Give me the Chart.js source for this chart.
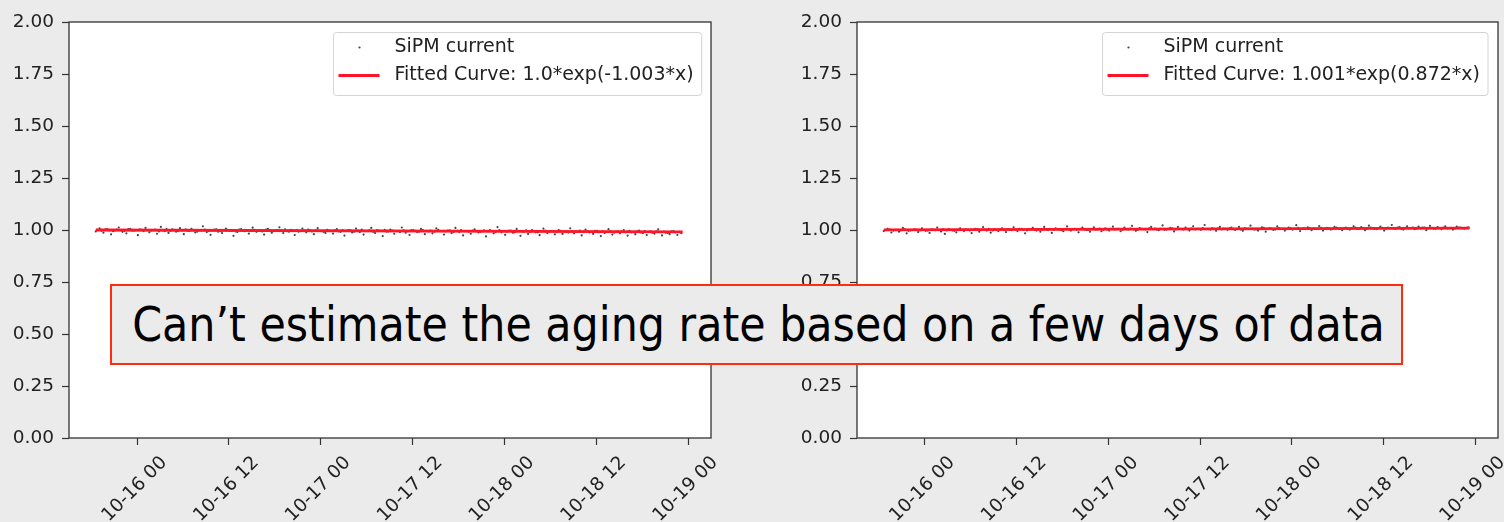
<!DOCTYPE html>
<html><head><meta charset="utf-8">
<script src="https://cdn.jsdelivr.net/npm/chart.js@4.4.0/dist/chart.umd.min.js"></script>
<style>
html,body{margin:0;padding:0;background:#ebebeb;width:1504px;height:522px;overflow:hidden;}
.panel{position:absolute;top:0;width:752px;height:522px;}
#note{position:absolute;left:110px;top:284px;width:1293px;height:81px;box-sizing:border-box;border:2.5px solid #ff2d0d;background:#ebebeb;display:flex;align-items:center;justify-content:center;font-family:"DejaVu Sans Condensed","DejaVu Sans",sans-serif;font-stretch:condensed;font-size:47.6px;color:#000;z-index:5;white-space:nowrap;padding-left:4px;}
</style></head><body>
<div class="panel" style="left:0"><canvas id="c1" width="752" height="522"></canvas></div>
<div class="panel" style="left:752px"><canvas id="c2" width="752" height="522"></canvas></div>
<div id="note">Can’t estimate the aging rate based on a few days of data</div>
<script>
// sample times, hours relative to 10-16 00:00 (two interleaved read-outs)
const hours = [
-5.4,-4.9,-4.4,-3.9,-3.4,-2.9,-2.4,-1.9,-1.4,-0.9,
-0.4,0.1,0.6,1.1,1.6,2.1,2.6,3.1,3.6,4.1,
4.6,5.1,5.6,6.1,6.6,7.1,7.6,8.1,8.6,9.1,
9.6,10.1,10.6,11.1,11.6,12.1,12.6,13.1,13.6,14.1,
14.6,15.1,15.6,16.1,16.6,17.1,17.6,18.1,18.6,19.1,
19.6,20.1,20.6,21.1,21.6,22.1,22.6,23.1,23.6,24.1,
24.6,25.1,25.6,26.1,26.6,27.1,27.6,28.1,28.6,29.1,
29.6,30.1,30.6,31.1,31.6,32.1,32.6,33.1,33.6,34.1,
34.6,35.1,35.6,36.1,36.6,37.1,37.6,38.1,38.6,39.1,
39.6,40.1,40.6,41.1,41.6,42.1,42.6,43.1,43.6,44.1,
44.6,45.1,45.6,46.1,46.6,47.1,47.6,48.1,48.6,49.1,
49.6,50.1,50.6,51.1,51.6,52.1,52.6,53.1,53.6,54.1,
54.6,55.1,55.6,56.1,56.6,57.1,57.6,58.1,58.6,59.1,
59.6,60.1,60.6,61.1,61.6,62.1,62.6,63.1,63.6,64.1,
64.6,65.1,65.6,66.1,66.6,67.1,67.6,68.1,68.6,69.1,
69.6,70.1,70.6,71.1];
const hoursB = [
-5.15,-4.65,-4.15,-3.65,-3.15,-2.65,-2.15,-1.65,-1.15,-0.65,
-0.15,0.35,0.85,1.35,1.85,2.35,2.85,3.35,3.85,4.35,
4.85,5.35,5.85,6.35,6.85,7.35,7.85,8.35,8.85,9.35,
9.85,10.35,10.85,11.35,11.85,12.35,12.85,13.35,13.85,14.35,
14.85,15.35,15.85,16.35,16.85,17.35,17.85,18.35,18.85,19.35,
19.85,20.35,20.85,21.35,21.85,22.35,22.85,23.35,23.85,24.35,
24.85,25.35,25.85,26.35,26.85,27.35,27.85,28.35,28.85,29.35,
29.85,30.35,30.85,31.35,31.85,32.35,32.85,33.35,33.85,34.35,
34.85,35.35,35.85,36.35,36.85,37.35,37.85,38.35,38.85,39.35,
39.85,40.35,40.85,41.35,41.85,42.35,42.85,43.35,43.85,44.35,
44.85,45.35,45.85,46.35,46.85,47.35,47.85,48.35,48.85,49.35,
49.85,50.35,50.85,51.35,51.85,52.35,52.85,53.35,53.85,54.35,
54.85,55.35,55.85,56.35,56.85,57.35,57.85,58.35,58.85,59.35,
59.85,60.35,60.85,61.35,61.85,62.35,62.85,63.35,63.85,64.35,
64.85,65.35,65.85,66.35,66.85,67.35,67.85,68.35,68.85,69.35,
69.85,70.35,70.85];

const currentLeft = [
0.993,1.008,0.987,1.004,0.979,0.998,1.012,0.991,0.984,1.006,0.997,0.975,1.001,1.010,0.989,0.999,0.982,1.015,0.994,0.986,1.003,0.992,1.009,0.980,0.996,1.005,0.988,0.999,1.018,0.990,0.977,
1.002,0.992,0.985,1.007,0.996,0.972,0.990,1.004,0.994,0.983,1.011,0.991,0.999,0.978,1.006,0.987,0.997,1.013,0.985,0.994,1.001,0.976,0.992,1.007,0.989,0.999,0.980,1.009,0.995,0.986,
0.997,0.983,1.004,0.991,0.973,0.999,0.988,1.007,0.990,0.978,0.995,1.010,0.985,0.997,0.971,0.992,1.002,0.982,0.995,1.012,0.987,0.976,0.999,0.990,1.005,0.980,0.993,0.984,1.008,0.995,
0.978,0.997,0.985,1.010,0.990,0.974,0.995,0.982,1.003,0.988,0.993,0.969,0.999,0.984,1.014,0.989,0.977,0.997,0.987,1.005,0.972,0.992,0.981,0.999,0.989,0.975,1.007,0.985,0.995,0.979,
1.000,0.981,0.993,1.008,0.984,0.992,0.974,1.002,0.988,0.981,0.996,0.971,0.986,1.004,0.978,0.992,0.984,0.999,0.973,0.989,0.980,0.997,0.985,0.976,0.993,0.982,1.003,0.974,0.987,0.980,0.995,0.976,0.985];
const currentLeftB = [
1.001,0.996,1.003,0.998,0.994,1.002,0.999,0.995,1.004,0.997,
0.999,1.003,0.995,1.000,0.997,1.002,0.993,0.999,1.004,0.996,
1.001,0.994,0.998,1.003,0.996,1.000,0.992,0.999,1.002,0.995,
0.998,1.003,0.994,0.999,1.001,0.996,0.993,1.002,0.997,0.999,
0.995,1.001,0.997,0.993,1.002,0.998,0.994,1.000,0.996,1.003,
0.992,0.998,1.000,0.995,0.997,1.002,0.993,0.999,0.996,0.991,
1.001,0.995,0.998,0.993,1.000,0.996,0.999,0.992,0.997,1.002,
0.994,0.998,0.991,0.999,0.996,1.001,0.993,0.997,0.995,0.990,
0.998,0.994,1.000,0.996,0.992,0.999,0.995,0.997,0.991,1.001,
0.995,0.993,0.998,0.990,0.996,0.999,0.994,0.992,0.997,0.995,
0.991,0.998,0.993,0.996,0.990,0.999,0.994,0.992,0.997,0.989,
0.995,0.993,0.998,0.991,0.996,0.989,0.994,0.997,0.992,0.995,
0.990,0.996,0.993,0.988,0.995,0.992,0.997,0.990,0.994,0.991,
0.996,0.989,0.993,0.991,0.995,0.987,0.994,0.992,0.989,0.996,
0.990,0.993,0.988,0.995,0.991,0.987,0.994,0.990,0.992,0.986,
0.993,0.989,0.991];

const currentRight = [
0.995,1.006,0.988,1.001,0.992,1.010,0.984,0.998,1.003,0.990,1.008,0.996,0.986,1.001,1.012,0.993,0.981,1.004,0.998,0.989,1.008,0.995,1.001,0.985,1.006,0.992,1.014,0.997,0.987,1.003,0.995,
1.008,0.990,1.000,1.013,0.995,1.005,0.984,1.003,1.010,0.997,0.992,1.015,1.000,0.986,1.008,1.002,0.994,1.017,0.997,1.005,0.989,1.011,1.000,0.992,1.013,1.002,0.994,1.008,0.997,1.016,
1.005,0.994,1.012,1.002,1.020,0.996,1.009,1.004,0.990,1.015,1.007,0.999,1.022,1.002,1.010,0.993,1.015,1.004,1.012,0.997,1.018,1.006,1.001,1.024,1.004,1.009,0.996,1.015,1.007,1.001,
1.011,1.000,1.015,0.996,1.005,1.021,1.002,0.997,1.013,0.992,1.008,1.000,1.017,1.005,0.997,1.011,1.002,1.023,0.995,1.008,1.013,0.999,1.005,1.019,0.997,1.010,1.002,1.015,1.007,0.999,
1.012,1.002,1.018,1.006,1.014,0.999,1.021,1.009,1.004,1.016,0.997,1.012,1.024,1.006,1.014,1.002,1.018,1.009,1.004,1.016,1.011,0.999,1.020,1.006,1.014,1.004,1.018,1.009,1.002,1.016,1.011,1.006,1.013];
const currentRightB = [
0.999,1.002,0.997,1.001,0.998,1.003,0.996,1.000,1.002,0.998,
1.001,0.997,1.003,0.999,1.000,1.004,0.998,1.001,0.996,1.002,
1.000,1.003,0.998,1.002,1.004,0.999,1.001,1.005,0.998,1.002,
1.003,1.000,1.004,0.999,1.002,1.005,1.001,0.998,1.003,1.001,
1.004,1.000,1.002,1.006,1.001,1.003,0.999,1.005,1.002,1.004,
1.001,1.006,1.003,1.000,1.004,1.002,1.007,1.001,1.003,1.005,
1.002,1.006,1.000,1.004,1.007,1.003,1.001,1.005,1.003,1.008,
1.004,1.002,1.006,1.001,1.005,1.008,1.003,1.006,1.002,1.004,
1.007,1.003,1.005,1.009,1.004,1.002,1.006,1.008,1.003,1.005,
1.008,1.004,1.006,1.002,1.009,1.005,1.007,1.003,1.006,1.010,
1.005,1.007,1.003,1.009,1.006,1.004,1.008,1.005,1.010,1.006,
1.004,1.009,1.007,1.005,1.010,1.006,1.008,1.004,1.011,1.007,
1.009,1.005,1.008,1.011,1.006,1.009,1.007,1.012,1.005,1.008,
1.010,1.006,1.009,1.007,1.011,1.005,1.009,1.008,1.012,1.006,
1.008,1.011,1.007,1.010,1.006,1.009,1.012,1.008,1.010,1.007,
1.011,1.008,1.010];

const fitHours = [-5.4, 71.3];
const fitLeft = [1.000, 0.991];
const fitRight = [1.001, 1.009];

const tickHours = [0, 12, 24, 36, 48, 60, 72];
const tickLabels = ['10-16 00','10-16 12','10-17 00','10-17 12','10-18 00','10-18 12','10-19 00'];
const pointsName = 'SiPM current';
const fitNameLeft = 'Fitted Curve: 1.0*exp(-1.003*x)';
const fitNameRight = 'Fitted Curve: 1.001*exp(0.872*x)';

function pairs(xs, ys){ const n=Math.min(xs.length, ys.length); const out=[]; for(let i=0;i<n;i++) out.push({x:xs[i], y:ys[i]}); return out; }

const FONT = 'DejaVu Sans';
const frame = {
  id:'frame',
  beforeDraw(chart){ const a=chart.chartArea, c=chart.ctx; c.save(); c.fillStyle='#ffffff'; c.fillRect(a.left,a.top,a.right-a.left,a.bottom-a.top); c.restore(); },
  afterDraw(chart){ const a=chart.chartArea, c=chart.ctx; c.save(); c.strokeStyle='#333'; c.lineWidth=1.3; c.strokeRect(a.left,a.top,a.right-a.left,a.bottom-a.top); c.restore(); }
};
const innerLegend = {
  id:'innerLegend',
  afterDraw(chart){
    const a=chart.chartArea, c=chart.ctx;
    const ds = chart.data.datasets;
    const items = [ds[1], ds[0]];
    c.save();
    c.font = '19px "DejaVu Sans"';
    const tw = Math.max(...items.map(d=>c.measureText(d.label).width));
    const w = 5+41+15+tw+8, h = 63;
    const x = Math.round(a.right-10-w)+0.5, y = Math.round(a.top+10)+0.5;
    c.beginPath(); c.roundRect(x,y,w,h,3);
    c.fillStyle='rgba(255,255,255,0.8)'; c.fill();
    c.strokeStyle='#d4d4d4'; c.lineWidth=1; c.stroke();
    c.fillStyle = ds[1].pointBackgroundColor;
    c.beginPath(); c.arc(x+26, y+15, 1.1, 0, Math.PI*2); c.fill();
    c.strokeStyle = ds[0].borderColor; c.lineWidth = ds[0].borderWidth;
    c.beginPath(); c.moveTo(x+5, y+43); c.lineTo(x+46, y+43); c.stroke();
    c.fillStyle='#222'; c.textBaseline='middle'; c.textAlign='left';
    c.fillText(items[0].label, x+61, y+15);
    c.fillText(items[1].label, x+61, y+43);
    c.restore();
  }
};

function makeChart(id, ys, ysB, fitY, fitName, padLeft, padRight){
  return new Chart(document.getElementById(id), {
    type:'scatter',
    data:{ datasets:[
      { label:fitName, data:pairs(fitHours, fitY), showLine:true, borderColor:'#ff1428', borderWidth:2.8, pointRadius:0, order:0 },
      { label:pointsName, data:pairs(hours, ys).concat(pairs(hoursB, ysB)), showLine:false, pointRadius:1.1, pointBackgroundColor:'#444444', pointBorderWidth:0, borderWidth:0, order:1 }
    ]},
    options:{
      responsive:false, animation:false, devicePixelRatio:1,
      layout:{ padding:{ left:padLeft, right:padRight, top:22, bottom:0 } },
      plugins:{ legend:{display:false}, tooltip:{enabled:false} },
      scales:{
        x:{ type:'linear', min:-8.9, max:75.0,
          afterBuildTicks(scale){ scale.ticks = tickHours.map(v=>({value:v})); },
          afterFit(scale){ scale.height = 84; },
          ticks:{ autoSkip:false, maxRotation:45, minRotation:45, labelOffset:27, padding:7, color:'#222', font:{family:FONT, size:18.5}, callback:(v,i)=>tickLabels[i] },
          grid:{ drawOnChartArea:false, drawTicks:true, tickLength:7, tickColor:'#333', tickWidth:1.2 },
          border:{ display:false }
        },
        y:{ type:'linear', min:0, max:2,
          afterFit(scale){ scale.width = 69; },
          ticks:{ stepSize:0.25, padding:8, color:'#222', font:{family:FONT, size:18.5}, callback:v=>Number(v).toFixed(2) },
          grid:{ drawOnChartArea:false, drawTicks:true, tickLength:7, tickColor:'#333', tickWidth:1.2 },
          border:{ display:false }
        }
      }
    },
    plugins:[frame, innerLegend]
  });
}
makeChart('c1', currentLeft, currentLeftB, fitLeft, fitNameLeft, 0, 41);
makeChart('c2', currentRight, currentRightB, fitRight, fitNameRight, 36, 6);
</script>
</body></html>
